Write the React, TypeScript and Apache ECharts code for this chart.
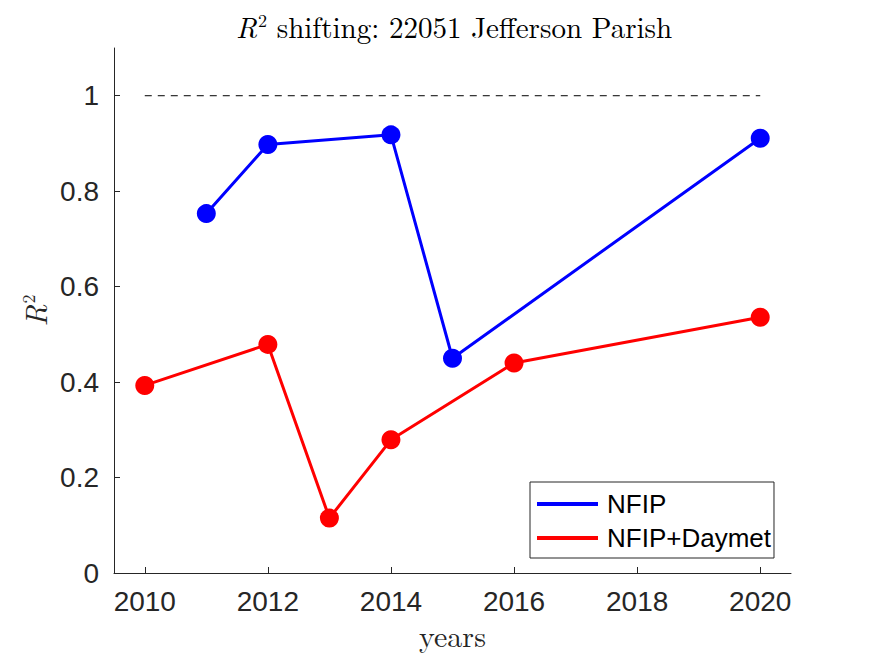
import React, { useEffect, useRef } from "react";
import * as echarts from "echarts";

const nfipYears = [2011, 2012, 2014, 2015, 2020];
const nfipValues = [0.753, 0.898, 0.918, 0.45, 0.911];
const daymetYears = [2010, 2012, 2013, 2014, 2016, 2020];
const daymetValues = [0.393, 0.479, 0.115, 0.279, 0.44, 0.536];
const refYears = [2010, 2020];
const refValues = [1, 1];
const xTicks = [2010, 2012, 2014, 2016, 2018, 2020];
const yTicks = [0, 0.2, 0.4, 0.6, 0.8, 1];

const pair = (xs: number[], ys: number[]) => xs.map((x, i) => [x, ys[i]]);

export default function App() {
  const ref = useRef<HTMLDivElement>(null);
  useEffect(() => {
    const chart = echarts.init(ref.current!, null, { renderer: "svg" });
    const axisColor = "#262626";
    const serif = "'Latin Modern Roman', 'DejaVu Serif', 'Liberation Serif', serif";
    const sans = "'Liberation Sans', Arial, Helvetica, sans-serif";
    chart.setOption({
      animation: false,
      backgroundColor: "#ffffff",
      title: {
        text: "{i|R}{s|2}{t| shifting: 22051 Jefferson Parish}",
        left: 449,
        textAlign: "center",
        top: 5,
        textStyle: {
          fontWeight: "normal",
          rich: {
            i: { fontFamily: serif, fontStyle: "italic", fontWeight: "normal", fontSize: 29, color: "#000" },
            s: { fontFamily: serif, fontWeight: "normal", fontSize: 18, color: "#000", verticalAlign: "top", padding: [0, 0, 12, 1] },
            t: { fontFamily: serif, fontWeight: "normal", fontSize: 29, color: "#000" },
          },
        },
      },
      grid: { left: 114, right: 84, top: 48, bottom: 83, containLabel: false, outerBoundsMode: "none" },
      legend: {
        orient: "vertical",
        left: 530,
        top: 482,
        padding: [9, 3, 7, 7],
        itemGap: 8,
        itemWidth: 61,
        itemHeight: 4,
        borderColor: axisColor,
        borderWidth: 1,
        borderRadius: 0,
        backgroundColor: "#fff",
        data: [
          { name: "NFIP", icon: "rect" },
          { name: "NFIP+Daymet", icon: "rect" },
        ],
        textStyle: { fontFamily: sans, fontSize: 26, color: "#000", padding: [0, 0, 0, 4] },
      },
      xAxis: {
        type: "value",
        min: 2009.5,
        max: 2020.5,
        name: "years",
        nameLocation: "middle",
        nameGap: 43,
        nameTextStyle: { fontFamily: serif, fontSize: 30, color: axisColor },
        axisLine: { show: true, lineStyle: { color: axisColor, width: 1 } },
        axisTick: { show: true, inside: true, length: 6, customValues: xTicks, lineStyle: { color: axisColor } },
        axisLabel: {
          customValues: xTicks,
          fontFamily: sans,
          fontSize: 28,
          color: axisColor,
          margin: 14,
          formatter: (v: number) => String(v),
        },
        splitLine: { show: false },
      },
      yAxis: {
        type: "value",
        min: 0,
        max: 1.1,
        name: "{i|R}{s|2}",
        nameLocation: "middle",
        nameRotate: 90,
        nameGap: 64,
        nameTextStyle: {
          rich: {
            i: { fontFamily: serif, fontStyle: "italic", fontSize: 30, color: axisColor },
            s: { fontFamily: serif, fontSize: 18, color: axisColor, verticalAlign: "top", padding: [0, 0, 13, 1] },
          },
        },
        axisLine: { show: true, lineStyle: { color: axisColor, width: 1 } },
        axisTick: { show: true, inside: true, length: 6, customValues: yTicks, lineStyle: { color: axisColor } },
        axisLabel: {
          customValues: yTicks,
          fontFamily: sans,
          fontSize: 28,
          color: axisColor,
          margin: 15,
          formatter: (v: number) => (Math.abs(v) < 1e-9 ? "0" : Math.abs(v - 1) < 1e-9 ? "1" : String(Math.round(v * 10) / 10)),
        },
        splitLine: { show: false },
      },
      series: [
        {
          name: "ref",
          type: "line",
          data: pair(refYears, refValues),
          symbol: "none",
          lineStyle: { color: "#000", width: 1, type: [7, 6] },
          silent: true,
        },
        {
          name: "NFIP",
          type: "line",
          data: pair(nfipYears, nfipValues),
          symbol: "circle",
          symbolSize: 19,
          itemStyle: { color: "#0000ff" },
          lineStyle: { color: "#0000ff", width: 3 },
        },
        {
          name: "NFIP+Daymet",
          type: "line",
          data: pair(daymetYears, daymetValues),
          symbol: "circle",
          symbolSize: 19,
          itemStyle: { color: "#ff0000" },
          lineStyle: { color: "#ff0000", width: 3 },
        },
      ],
    });
    return () => chart.dispose();
  }, []);
  return (
    <div
      ref={ref}
      style={{ position: "absolute", left: 0, top: 0, width: 875, height: 656, background: "#fff" }}
    />
  );
}
